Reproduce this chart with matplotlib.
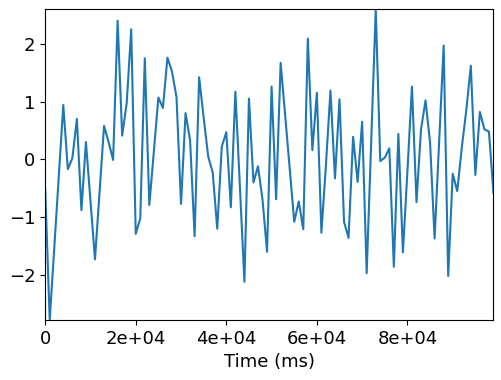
import numpy as np
import matplotlib
matplotlib.use("Agg")
import matplotlib.pyplot as plt
from matplotlib.ticker import FuncFormatter

# time axis (ms) and signal values
time_ms = np.arange(0, 100000, 1000)
signal = [
    -0.50, -2.78, -1.54, -0.30, 0.94, -0.17, 0.02, 0.70, -0.88, 0.30,
    -0.72, -1.73, -0.58, 0.58, 0.30, -0.01, 2.40, 0.41, 0.97, 2.25,
    -1.29, -1.02, 1.75, -0.79, 0.14, 1.07, 0.89, 1.76, 1.52, 1.08,
    -0.77, 0.80, 0.33, -1.33, 1.42, 0.72, 0.05, -0.23, -1.20, 0.22,
    0.47, -0.83, 1.17, -0.47, -2.12, 1.05, -0.40, -0.12, -0.70, -1.60,
    1.26, -0.69, 1.67, 0.76, -0.16, -1.08, -0.73, -1.21, 2.09, 0.16,
    1.15, -1.27, -0.10, 1.19, -0.33, 1.04, -1.08, -1.36, 0.39, -0.39,
    0.65, -1.97, 0.31, 2.60, -0.03, 0.03, 0.19, -1.86, 0.44, -1.61,
    -0.20, 1.26, -0.74, 0.52, 1.02, 0.29, -1.37, 0.30, 1.97, -2.02,
    -0.25, -0.55, 0.20, 0.85, 1.62, -0.27, 0.82, 0.52, 0.48, -0.58,
]

plt.rcParams['font.size'] = 13

fig = plt.figure(figsize=(5.02, 3.8), dpi=100)
ax = fig.add_axes([0.090, 0.158, 0.893, 0.818])

ax.plot(time_ms, signal, color='#1f77b4', linewidth=1.5)
ax.set_xlim(time_ms[0], time_ms[-1])
ax.set_ylim(min(signal), max(signal))
ax.set_xticks([0, 20000, 40000, 60000, 80000])
ax.set_yticks([-2, -1, 0, 1, 2])


def sci(v, pos):
    if v == 0:
        return '0'
    return '{:.0e}'.format(v)


ax.xaxis.set_major_formatter(FuncFormatter(sci))
ax.set_xlabel('Time (ms)')

fig.savefig('out.png', dpi=100)
